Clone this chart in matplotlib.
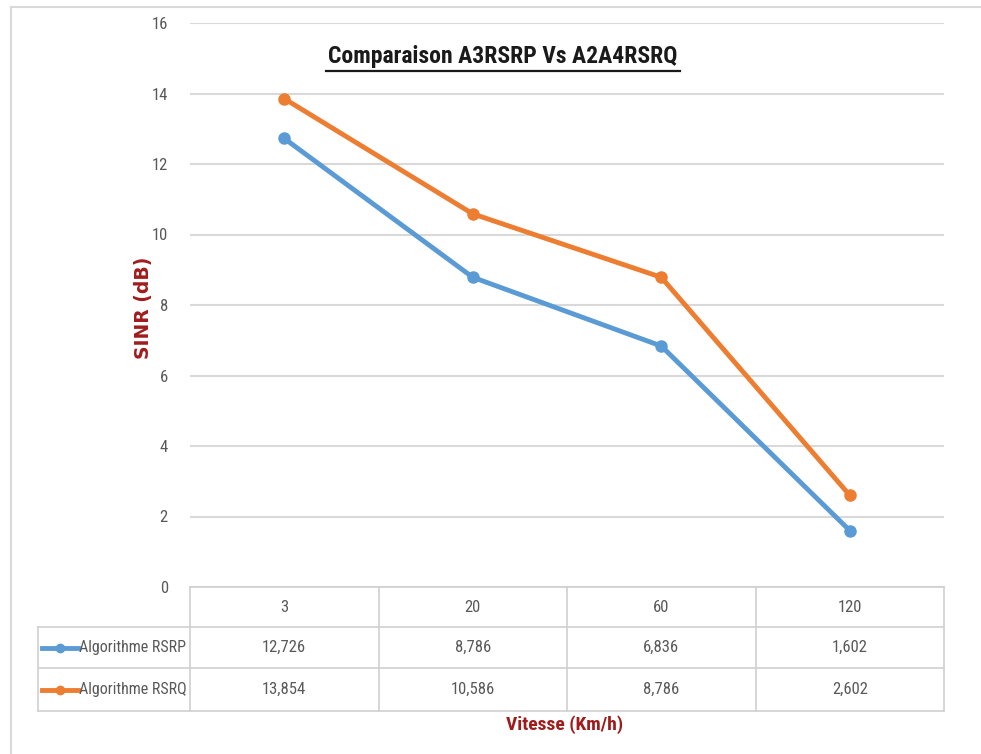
import matplotlib
matplotlib.use("Agg")
import matplotlib.pyplot as plt
from matplotlib import font_manager
from matplotlib.lines import Line2D

# Data
speeds = ["3", "20", "60", "120"]
series_names = ["Algorithme RSRP", "Algorithme RSRQ"]
rsrp = [12.726, 8.786, 6.836, 1.602]
rsrq = [13.854, 10.586, 8.786, 2.602]
y_ticks = [0, 2, 4, 6, 8, 10, 12, 14, 16]

colors = ["#5B9BD5", "#ED7D31"]
series = [rsrp, rsrq]


def pick_font(candidates):
    names = {f.name for f in font_manager.fontManager.ttflist}
    for c in candidates:
        if c in names:
            return c
    return "DejaVu Sans"


narrow = pick_font(["Liberation Sans Narrow", "Roboto Condensed", "Open Sans Condensed", "Liberation Sans"])
plt.rcParams["font.family"] = [narrow, "DejaVu Sans"]

W, H = 981, 754
fig = plt.figure(figsize=(W / 100, H / 100), dpi=100)


def fx(px):
    return px / W


def fy(py):
    return 1 - py / H


# outer chart frame (top and left edges visible)
fig.add_artist(Line2D([fx(11), fx(981)], [fy(7), fy(7)], color="#D9D9D9", lw=1.5))
fig.add_artist(Line2D([fx(11), fx(11)], [fy(7), fy(754)], color="#D9D9D9", lw=1.5))

ax_left, ax_right = 190, 944
ax_top, ax_bottom = 23, 587
ax = fig.add_axes([fx(ax_left), fy(ax_bottom), fx(ax_right - ax_left), (ax_bottom - ax_top) / H])

n = len(speeds)
xs = [i + 0.5 for i in range(n)]
ax.set_xlim(0, n)
ax.set_ylim(0, 16)
ax.set_yticks(y_ticks)
ax.set_yticklabels([str(t) for t in y_ticks], color="#595959", fontsize=12)
ax.tick_params(axis="y", length=0, pad=16)
ax.set_xticks([])
for s in ax.spines.values():
    s.set_visible(False)
ax.grid(axis="y", color="#D9D9D9", lw=1.5)
ax.set_axisbelow(True)

for vals, col in zip(series, colors):
    ax.plot(xs, vals, color=col, lw=3.5, marker="o", ms=8, solid_capstyle="round", zorder=3)

# title
fig.text(fx(503), fy(57), "Comparaison A3RSRP Vs A2A4RSRQ", ha="center", va="center",
         fontsize=17, fontweight="bold", color="#1a1a1a")
fig.add_artist(Line2D([fx(326), fx(680)], [fy(71), fy(71)], color="#1a1a1a", lw=1.6))

# axis titles
fig.text(fx(144), fy(308), "SINR (dB)", rotation=90, ha="center", va="center",
         fontsize=13.5, fontweight="bold", color="#A01C1C", family="DejaVu Sans")
fig.text(fx(565), fy(725), "Vitesse (Km/h)", ha="center", va="center",
         fontsize=14, fontweight="bold", color="#A01C1C")

# data table below the plot
grid_col = "#D0D0D0"
col_edges = [ax_left + (ax_right - ax_left) * i / n for i in range(n + 1)]
row_edges = [587, 627, 668, 711]
label_left = 38

# horizontal lines
fig.add_artist(Line2D([fx(ax_left), fx(ax_right)], [fy(row_edges[0])] * 2, color=grid_col, lw=1.2))
for yy in row_edges[1:]:
    fig.add_artist(Line2D([fx(label_left), fx(ax_right)], [fy(yy)] * 2, color=grid_col, lw=1.2))
# vertical lines
fig.add_artist(Line2D([fx(label_left)] * 2, [fy(row_edges[1]), fy(row_edges[-1])], color=grid_col, lw=1.2))
for xx in col_edges:
    fig.add_artist(Line2D([fx(xx)] * 2, [fy(row_edges[0]), fy(row_edges[-1])], color=grid_col, lw=1.2))

cell_fs = 12
for i, lab in enumerate(speeds):
    cx = (col_edges[i] + col_edges[i + 1]) / 2
    fig.text(fx(cx), fy((row_edges[0] + row_edges[1]) / 2), lab, ha="center", va="center",
             fontsize=cell_fs, color="#595959")

for r, (name, vals, col) in enumerate(zip(series_names, series, colors)):
    cy = (row_edges[r + 1] + row_edges[r + 2]) / 2
    for i, v in enumerate(vals):
        cx = (col_edges[i] + col_edges[i + 1]) / 2
        txt = f"{v:.3f}".replace(".", ",")
        fig.text(fx(cx), fy(cy), txt, ha="center", va="center", fontsize=cell_fs, color="#595959")
    # legend key
    fig.add_artist(Line2D([fx(42), fx(78)], [fy(cy), fy(cy)], color=col, lw=3.5))
    fig.add_artist(Line2D([fx(60)], [fy(cy)], color=col, marker="o", ms=6))
    fig.text(fx(79), fy(cy), name, ha="left", va="center", fontsize=11.5, color="#595959")

fig.savefig("out.png", dpi=100, facecolor="white")
